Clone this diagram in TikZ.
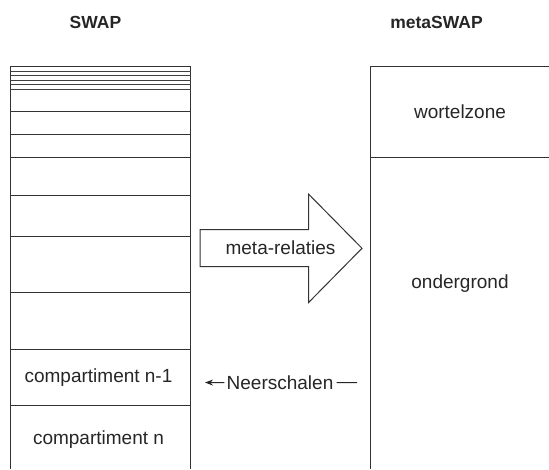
\documentclass[tikz,border=0pt]{standalone}
\usepackage{fontspec}
\setmainfont{Liberation Sans}
\usetikzlibrary{arrows.meta}
\begin{document}
\begin{tikzpicture}[x=1pt,y=-1pt,
  lin/.style={draw=black!80,line width=1pt},
  thin/.style={draw=black!75,line width=1pt},
  lbl/.style={inner sep=0pt,text=black!85,font=\fontsize{19}{23}\selectfont},
  ttl/.style={inner sep=0pt,text=black!85,font=\fontsize{17.5}{21}\selectfont\bfseries}]
\useasboundingbox (0,0) rectangle (549,469);
% titles
\node[ttl] (tswap) at (95.5,22.7) {SWAP};
\node[ttl] (tmeta) at (436.5,22.7) {metaSWAP};
% SWAP column
\draw[lin] (10.5,469) -- (10.5,66.5) -- (190.5,66.5) -- (190.5,469);
\foreach \yy in {71.5,75.5,80.5,84.5,89.5}{\draw[thin] (10.5,\yy) -- (190.5,\yy);}
\foreach \yy in {111.5,134.5,157.5,195.5,236.5,292.5,349.5,405.5}{\draw[lin] (10.5,\yy) -- (190.5,\yy);}
\node[lbl] (cn1) at (98.5,377.5) {compartiment n-1};
\node[lbl] (cn) at (98.5,440) {compartiment n};
% metaSWAP column
\draw[lin] (549,66.5) -- (370.5,66.5) -- (370.5,469);
\draw[lin] (370.5,157.5) -- (549,157.5);
\node[lbl] (wz) at (460,112) {wortelzone};
\node[lbl] (og) at (460,284) {ondergrond};
% big arrow
\draw[line width=1pt,draw=black!80,fill=white] (200,229.5) -- (308.5,229.5) -- (308.5,194) -- (362,248.3) -- (308.5,302.6) -- (308.5,266.5) -- (200,266.5) -- cycle;
\node[lbl] (mr) at (280.5,248) {meta-relaties};
% Neerschalen
\node[lbl] (ns) at (280,382.7) {Neerschalen};
\coordinate (nsl) at (205,382.5);
\coordinate (nsr) at (357,382.5);
\draw[line width=1pt,draw=black!85,-{Stealth[length=8pt,width=6pt]}] ([xshift=-2pt]ns.west) -- (nsl);
\draw[line width=1pt,draw=black!85] ([xshift=3pt]ns.east) -- (nsr);
\end{tikzpicture}
\end{document}
